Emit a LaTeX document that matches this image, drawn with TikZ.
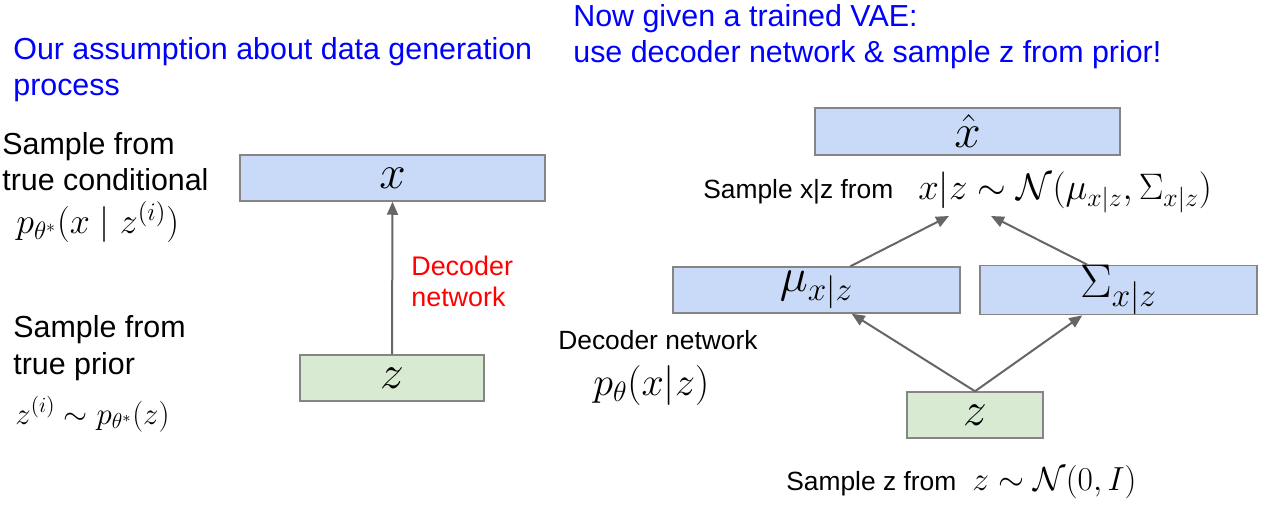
\RequirePackage{fix-cm}
\documentclass[tikz,border=0pt]{standalone}
\usepackage{amsmath}
\usepackage{amssymb}
\usepackage[no-math]{fontspec}
\setmainfont{Liberation Sans}
\usepackage{xcolor}
\usepackage{tikz}
\usetikzlibrary{arrows.meta}
\definecolor{xblue}{HTML}{C9DAF8}
\definecolor{zgreen}{HTML}{D9EAD3}
\definecolor{boxline}{HTML}{858585}
\definecolor{arrowgray}{HTML}{666666}
\definecolor{titleblue}{HTML}{0000FF}
\tikzset{
	netbox/.style = {draw=boxline, line width=0.03cm, inner sep=0pt, minimum height=0.92cm, font=\fontsize{27}{30}\selectfont},
	xnet/.style = {netbox, fill=xblue},
	znet/.style = {netbox, fill=zgreen},
	flow/.style = {draw=arrowgray, line width=0.04cm, -{Triangle[length=0.26cm,width=0.22cm]}},
	bigtext/.style = {anchor=base west, inner sep=0pt, align=left, font=\fontsize{17.3}{20.5}\selectfont},
	smalltext/.style = {anchor=base west, inner sep=0pt, align=left, font=\fontsize{15}{18}\selectfont},
	formula/.style = {anchor=base west, inner sep=0pt}
}

\begin{document}
\begin{tikzpicture}
		\useasboundingbox (0,0) rectangle (25.24cm,10.1cm);

		% base of a two-line node is its last line
		\node[bigtext, text=titleblue] (lefttitle) at (0.26cm, 8.18cm) {Our assumption about data generation\\process};
		\node[bigtext, text=titleblue, font=\fontsize{17.3}{21}\selectfont] (righttitle) at (11.46cm, 8.84cm) {Now given a trained VAE:\\use decoder network \& sample z from prior!};

		\node[bigtext] (condtext) at (0.04cm, 6.28cm) {Sample from\\true conditional};
		\node[formula, font=\fontsize{20.5}{24}\selectfont] (condmath) at (0.32cm, 5.42cm) {$p_{\theta^*}(x \mid z^{(i)})$};
		\node[bigtext] (priortext) at (0.26cm, 2.62cm) {Sample from\\true prior};
		\node[formula, font=\fontsize{17.6}{21}\selectfont] (priormath) at (0.30cm, 1.62cm) {$z^{(i)} \sim p_{\theta^*}(z)$};

		\node[xnet, minimum width=6.10cm] (xl) at (7.85cm, 6.54cm) {$x$};
		\node[znet, minimum width=3.68cm] (zl) at (7.84cm, 2.54cm) {$z$};
		\draw[flow] (zl.north) -- (xl.south);
		\node[smalltext, text=red, font=\fontsize{15.3}{18.2}\selectfont] (decl) at (8.22cm, 3.96cm) {Decoder\\network};

		\node[xnet, minimum width=6.10cm, minimum height=0.94cm] (xhat) at (19.35cm, 7.47cm) {$\hat{x}$};
		\node[smalltext] (xzsample) at (14.06cm, 6.12cm) {Sample x|z from};
		\node[formula, font=\fontsize{21}{25}\selectfont] (xzmath) at (18.36cm, 6.10cm) {$x|z \sim \mathcal{N}(\mu_{x|z}, \Sigma_{x|z})$};
		\coordinate (tipmu) at (18.98cm, 5.78cm);
		\coordinate (tipsig) at (19.82cm, 5.78cm);

		\node[xnet, minimum width=5.74cm] (mu) at (16.33cm, 4.30cm) {$\mu_{x|z}$};
		\node[xnet, minimum width=5.54cm] (sig) at (22.37cm, 4.30cm) {$\Sigma_{x|z}$};
		\node[znet, minimum width=2.72cm] (zr) at (19.50cm, 1.80cm) {$z$};
		\draw[flow] (mu.35) -- (tipmu);
		\draw[flow] (sig.141) -- (tipsig);
		\draw[flow] (zr.north) -- (mu.-34);
		\draw[flow] (zr.north) -- (sig.-145);

		\node[smalltext] (decr) at (11.16cm, 3.12cm) {Decoder network};
		\node[formula, font=\fontsize{22.8}{26}\selectfont] (decmath) at (11.86cm, 2.20cm) {$p_\theta(x|z)$};
		\node[smalltext] (zsample) at (15.72cm, 0.30cm) {Sample z from};
		\node[formula, font=\fontsize{19}{23}\selectfont] (zmath) at (19.44cm, 0.30cm) {$z \sim \mathcal{N}(0, I)$};
	\end{tikzpicture}
\end{document}
